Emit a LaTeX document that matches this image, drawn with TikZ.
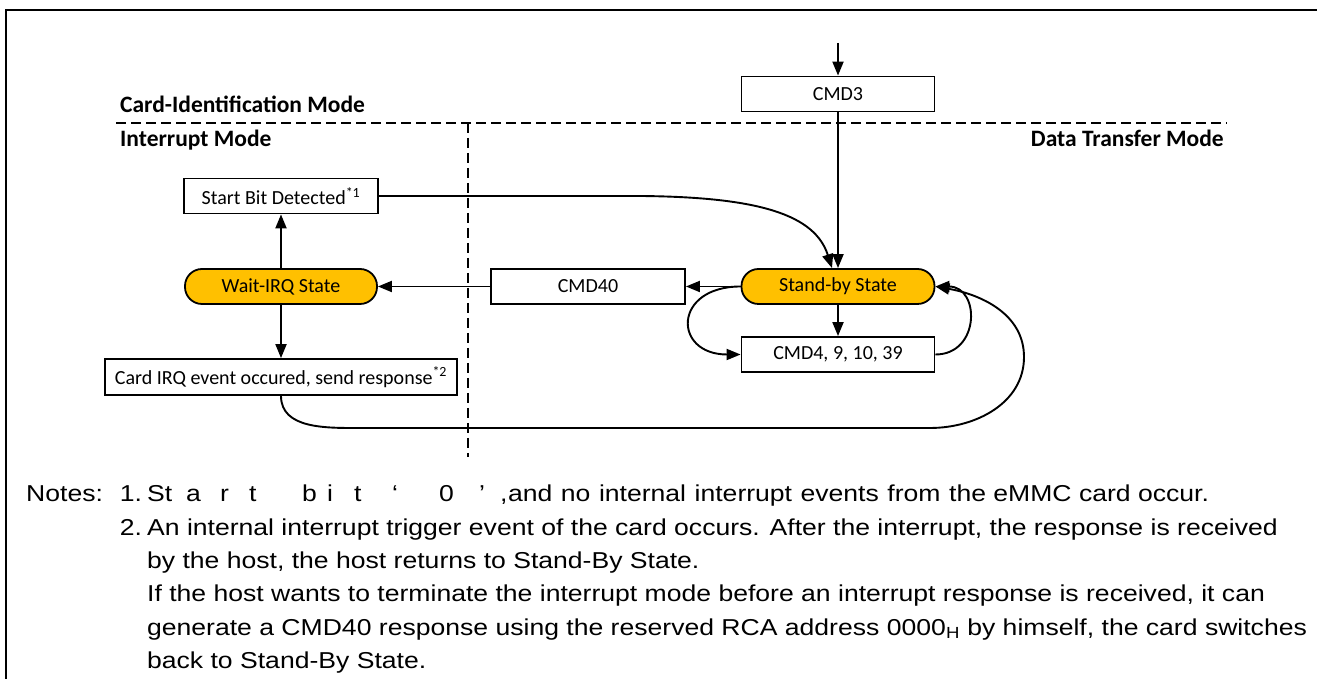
\documentclass[tikz,border=0pt]{standalone}
\usepackage{fontspec}
\setmainfont{Carlito}
\newfontfamily\notesfont[FakeStretch=1.155]{Liberation Sans}
\usetikzlibrary{arrows.meta}
\definecolor{stategold}{HTML}{FFC000}
\tikzstyle{process} = [rectangle, minimum width=193pt, minimum height=35pt, text centered, draw=black, line width=1.8pt, fill=white, font=\fontsize{20}{24}\selectfont]
\tikzstyle{state} = [process, rounded corners=17pt, fill=stategold]
\tikzstyle{mode} = [font=\fontsize{23.5}{28}\selectfont\bfseries, inner sep=0pt]
\tikzstyle{border} = [dash pattern=on 10pt off 5pt, line width=2.4pt]
\tikzstyle{arrow} = [line width=1.9pt, -{Triangle[length=14pt,width=11pt]}]

\begin{document}
\begin{tikzpicture}[x=1pt, y=1pt, node distance=90.5pt]
    \useasboundingbox (0,0) rectangle (1317,679);
    % frame and mode borders
    \draw [line width=2.4pt] (6,-5) -- (6,669) -- (1325,669);
    \draw [border] (116,556) -- (1227,556);
    \draw [border] (468,556) -- (468,222);
    \node (cardid) [mode, anchor=base west] at (120,566) {Card-Identification Mode};
    \node (intmode) [mode, anchor=base west] at (120,532) {Interrupt Mode};
    \node (datamode) [mode, anchor=base east] at (1224,532) {Data Transfer Mode};

    \node (standby) [state] at (838,392.5) {Stand-by State};
    \node (cmd3) [process, node distance=192.5pt, above of=standby] {CMD3};
    \node (cmd4) [process, node distance=68pt, below of=standby] {CMD4, 9, 10, 39};
    \node (cmd40) [process, minimum width=194pt, node distance=250pt, left of=standby] {CMD40};
    \node (waitirq) [state, minimum width=192pt, node distance=307pt, left of=cmd40] {Wait-IRQ State};
    \node (startbit) [process, minimum width=194pt, above of=waitirq] {Start Bit Detected\textsuperscript{*1}};
    \node (cardirq) [process, minimum width=352pt, minimum height=36pt, font=\fontsize{20}{24}\selectfont, below of=waitirq] {Card IRQ event occured, send response\textsuperscript{*2}};
    \coordinate [node distance=51pt, above of=cmd3] (entry);

    \draw [arrow] (entry) -- (cmd3);
    \draw [arrow] (cmd3) -- (standby);
    \draw [arrow] (standby) -- (cmd40);
    \draw [arrow] (cmd40) -- (waitirq);
    \draw [arrow] (waitirq) -- (startbit);
    \draw [arrow] (waitirq) -- (cardirq);
    \draw [arrow] (standby) -- (cmd4);
    \draw [arrow] (standby.west) .. controls +(-68,0) and +(-68,0) .. (cmd4.west);
    \draw [arrow] (cmd4.east) .. controls +(45,0) and +(45,0) .. (standby.east);
    \draw [arrow] (startbit.east) -- (640,483) .. controls (760,482) and (815,464) .. ([xshift=-6pt]standby.north);
    \draw [arrow] (cardirq.south) to[out=-90,in=180] (360,251) -- (930,251) to[out=0,in=-90] (1024,322) to[out=90,in=-10] (standby.east);

    % notes
    \node (notes) [anchor=base west, inner sep=0pt, font=\notesfont\fontsize{23}{33.3}\selectfont] at (26,177) {%
      \begin{tabular}[t]{@{}l@{\hspace{17pt}}l@{\hspace{5pt}}l@{}}
      Notes: & 1. & \makebox[39pt][l]{St}\makebox[34pt][l]{a}\makebox[29pt][l]{r}\makebox[53pt][l]{t}\makebox[25pt][l]{b}\makebox[27pt][l]{i}\makebox[38pt][l]{t}\makebox[47pt][l]{‘}\makebox[40pt][l]{0}\makebox[21pt][l]{’}\makebox[8pt][l]{,}\makebox[478pt][s]{and no internal interrupt events from the} eMMC card occur.\\
      & 2. & An internal interrupt trigger event of the card occurs. After the interrupt, the response is received\\
      & & by the host, the host returns to Stand-By State.\\
      & & If the host wants to terminate the interrupt mode before an interrupt response is received, it can\\
      & & generate a CMD40 response using the reserved RCA address 0000\textsubscript{H} by himself, the card switches\\
      & & back to Stand-By State.
      \end{tabular}};
\end{tikzpicture}
\end{document}
